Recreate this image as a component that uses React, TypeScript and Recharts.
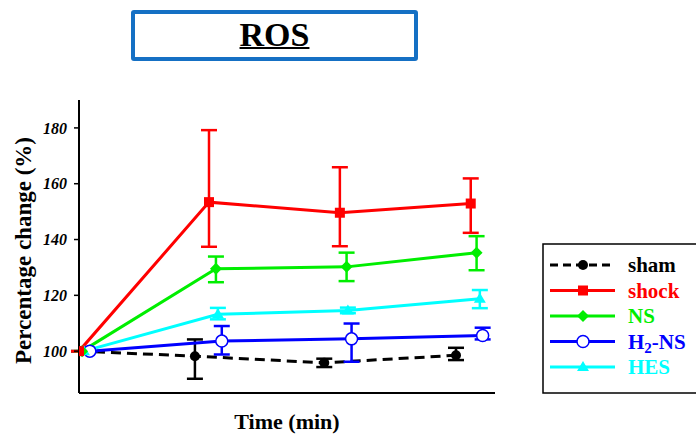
import React from 'react';
import { LineChart, Line, XAxis, YAxis, ErrorBar, Legend } from 'recharts';

const timeTicks = [0, 30, 60, 90, 120, 150, 180];
const valueTicks = [100, 120, 140, 160, 180];

// each group is drawn slightly shifted in time so error bars don't overlap
const shamTime = [0, 53.5, 113.2, 174];
const shamValue = [100, 98.2, 95.8, 98.5];
const shamLow = [0, 8.1, 1.5, 1.7];
const shamHigh = [0, 6, 1.5, 2.7];

const shockTime = [0, 60, 120.4, 180.8];
const shockValue = [100, 153.4, 149.6, 152.9];
const shockLow = [0, 16, 12, 10.5];
const shockHigh = [0, 25.8, 16.3, 9];

const nsTime = [1.4, 63.2, 123.5, 183.5];
const nsValue = [100, 129.5, 130.2, 135.3];
const nsLow = [0, 4.8, 5.1, 6.3];
const nsHigh = [0, 4.4, 5.1, 5.9];

const h2nsTime = [5, 65.9, 125.8, 186.3];
const h2nsValue = [100, 103.6, 104.4, 105.6];
const h2nsLow = [0, 4.8, 8.2, 1.4];
const h2nsHigh = [0, 5.4, 5.5, 2.8];

const hesTime = [2.3, 64.1, 124.1, 185];
const hesValue = [100, 113.2, 114.6, 118.8];
const hesLow = [0, 1.8, 1, 3.4];
const hesHigh = [0, 2.3, 1, 3.1];

const FONT = '"Liberation Serif", "Times New Roman", serif';
const GREEN = '#00ee00';

const makeSeries = (t: number[], v: number[], lo: number[], hi: number[]) =>
  t.map((x, i) => ({ t: x, v: v[i], err: [lo[i], hi[i]] }));

const circleDot = (fill: string) => (p: any) => (
  <circle key={`c-${p.cx}-${p.cy}`} cx={p.cx} cy={p.cy} r={5} fill={fill} />
);
const squareDot = (fill: string) => (p: any) => (
  <rect key={`s-${p.cx}-${p.cy}`} x={p.cx - 5} y={p.cy - 5} width={10} height={10} fill={fill} />
);
const diamondDot = (fill: string) => (p: any) => (
  <polygon
    key={`d-${p.cx}-${p.cy}`}
    points={`${p.cx},${p.cy - 6} ${p.cx + 6},${p.cy} ${p.cx},${p.cy + 6} ${p.cx - 6},${p.cy}`}
    fill={fill}
  />
);
const openDot = (stroke: string) => (p: any) => (
  <circle key={`o-${p.cx}-${p.cy}`} cx={p.cx} cy={p.cy} r={6} fill="#fff" stroke={stroke} strokeWidth={1.5} />
);
const triangleDot = (fill: string) => (p: any) => (
  <polygon
    key={`t-${p.cx}-${p.cy}`}
    points={`${p.cx},${p.cy - 6} ${p.cx + 6},${p.cy + 4} ${p.cx - 6},${p.cy + 4}`}
    fill={fill}
  />
);

const legendItems = [
  { name: 'sham', color: '#000000', dash: '8 5', dot: circleDot('#000000') },
  { name: 'shock', color: '#ff0000', dash: undefined, dot: squareDot('#ff0000') },
  { name: 'NS', color: GREEN, dash: undefined, dot: diamondDot(GREEN) },
  { name: 'H2-NS', color: '#0000ff', dash: undefined, dot: openDot('#0000ff') },
  { name: 'HES', color: '#00ffff', dash: undefined, dot: triangleDot('#00ffff') },
];

function LegendBox() {
  return (
    <svg width={156} height={151} style={{ display: 'block' }}>
      <rect x={1} y={1} width={160} height={149} fill="#fff" stroke="#000" strokeWidth={1.5} />
      {legendItems.map((item, i) => {
        const y = 22 + i * 25.5;
        return (
          <g key={item.name}>
            <line x1={8} x2={73} y1={y} y2={y} stroke={item.color} strokeWidth={3} strokeDasharray={item.dash} />
            {item.dot({ cx: 41, cy: y })}
            <text
              x={86}
              y={y + 7}
              fill={item.name === 'sham' ? '#000' : item.color}
              fontFamily={FONT}
              fontWeight="bold"
              fontSize={21}
            >
              {item.name === 'H2-NS' ? (
                <>
                  H<tspan fontSize={15} dy={4}>2</tspan>
                  <tspan dy={-4}>-NS</tspan>
                </>
              ) : (
                item.name
              )}
            </text>
          </g>
        );
      })}
    </svg>
  );
}

export default function App() {
  const sham = makeSeries(shamTime, shamValue, shamLow, shamHigh);
  const shock = makeSeries(shockTime, shockValue, shockLow, shockHigh);
  const ns = makeSeries(nsTime, nsValue, nsLow, nsHigh);
  const h2ns = makeSeries(h2nsTime, h2nsValue, h2nsLow, h2nsHigh);
  const hes = makeSeries(hesTime, hesValue, hesLow, hesHigh);

  return (
    <div style={{ position: 'absolute', left: 0, top: 0, width: 696, height: 438, background: '#fff' }}>
      <div
        style={{
          position: 'absolute',
          left: 131,
          top: 10,
          width: 287,
          height: 51,
          boxSizing: 'border-box',
          border: '4px solid #1570c4',
          borderRadius: 3,
          textAlign: 'center',
          fontFamily: FONT,
          fontWeight: 'bold',
          fontSize: 34,
          lineHeight: '41px',
          textDecoration: 'underline',
          textDecorationThickness: 2,
        }}
      >
        ROS
      </div>
      <LineChart width={696} height={438} margin={{ top: 100, right: 201, left: 0, bottom: 0 }}>
        <XAxis
          type="number"
          dataKey="t"
          domain={[0, 192]}
          ticks={timeTicks}
          allowDataOverflow
          tick={false}
          tickSize={6}
          height={45}
          axisLine={{ stroke: '#000', strokeWidth: 2 }}
          tickLine={{ stroke: '#000', strokeWidth: 1.5 }}
          label={{
            value: 'Time (min)',
            position: 'center',
            dy: 6,
            fill: '#000',
            fontFamily: FONT,
            fontWeight: 'bold',
            fontSize: 22,
          }}
        />
        <YAxis
          type="number"
          domain={[85, 190]}
          ticks={valueTicks}
          allowDataOverflow
          width={79}
          tickSize={5}
          tickMargin={7}
          axisLine={{ stroke: '#000', strokeWidth: 2 }}
          tickLine={{ stroke: '#000', strokeWidth: 1.5 }}
          tick={{ fill: '#000', fontFamily: FONT, fontWeight: 'bold', fontStyle: 'italic', fontSize: 16 }}
          label={{
            value: 'Percentage change (%)',
            angle: -90,
            position: 'center',
            dx: -17,
            dy: 4,
            fill: '#000',
            fontFamily: FONT,
            fontWeight: 'bold',
            fontSize: 23,
          }}
        />
        <Legend
          layout="vertical"
          align="center"
          verticalAlign="middle"
          content={() => <LegendBox />}
          wrapperStyle={{ left: 542, top: 243, width: 156 }}
        />
        <Line
          data={sham}
          dataKey="v"
          name="sham"
          type="linear"
          stroke="#000"
          strokeWidth={3}
          strokeDasharray="10 6"
          dot={circleDot('#000')}
          activeDot={false}
          isAnimationActive={false}
        >
          <ErrorBar dataKey="err" direction="y" width={8} strokeWidth={2.5} stroke="#000" />
        </Line>
        <Line
          data={h2ns}
          dataKey="v"
          name="H2-NS"
          type="linear"
          stroke="#0000ff"
          strokeWidth={3}
          dot={openDot('#0000ff')}
          activeDot={false}
          isAnimationActive={false}
        >
          <ErrorBar dataKey="err" direction="y" width={8} strokeWidth={2.5} stroke="#0000ff" />
        </Line>
        <Line
          data={hes}
          dataKey="v"
          name="HES"
          type="linear"
          stroke="#00ffff"
          strokeWidth={3}
          dot={triangleDot('#00ffff')}
          activeDot={false}
          isAnimationActive={false}
        >
          <ErrorBar dataKey="err" direction="y" width={8} strokeWidth={2.5} stroke="#00ffff" />
        </Line>
        <Line
          data={ns}
          dataKey="v"
          name="NS"
          type="linear"
          stroke={GREEN}
          strokeWidth={3}
          dot={diamondDot(GREEN)}
          activeDot={false}
          isAnimationActive={false}
        >
          <ErrorBar dataKey="err" direction="y" width={8} strokeWidth={2.5} stroke={GREEN} />
        </Line>
        <Line
          data={shock}
          dataKey="v"
          name="shock"
          type="linear"
          stroke="#ff0000"
          strokeWidth={3}
          dot={squareDot('#ff0000')}
          activeDot={false}
          isAnimationActive={false}
        >
          <ErrorBar dataKey="err" direction="y" width={8} strokeWidth={2.5} stroke="#ff0000" />
        </Line>
      </LineChart>
    </div>
  );
}
